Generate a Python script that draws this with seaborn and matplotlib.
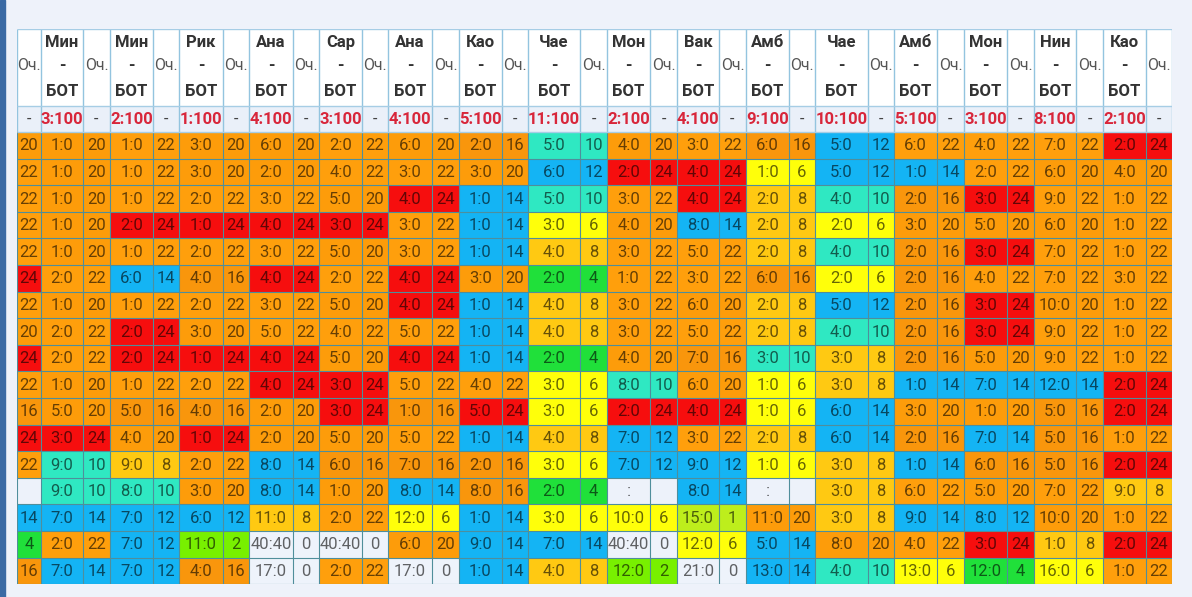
import numpy as np
import pandas as pd
import matplotlib
matplotlib.use('Agg')
import matplotlib.pyplot as plt
from matplotlib.colors import ListedColormap
from matplotlib.patches import Rectangle
import seaborn as sns

groups = ['Мин', 'Мин', 'Рик', 'Ана', 'Сар', 'Ана', 'Као', 'Чае',
          'Мон', 'Вак', 'Амб', 'Чае', 'Амб', 'Мон', 'Нин', 'Као']
bot_totals = ['3:100', '2:100', '1:100', '4:100', '3:100', '4:100', '5:100', '11:100',
              '2:100', '4:100', '9:100', '10:100', '5:100', '3:100', '8:100', '2:100']

# points column on the far left (cut off by scrolling)
first_och = [20, 22, 22, 22, 22, 24, 22, 20, 24, 22, 16, 24, 22, None, 14, 4, 16]

scores = [
    ['1:0', '1:0', '3:0', '6:0', '2:0', '6:0', '2:0', '5:0', '4:0', '3:0', '6:0', '5:0', '6:0', '4:0', '7:0', '2:0'],
    ['1:0', '1:0', '3:0', '2:0', '4:0', '3:0', '3:0', '6:0', '2:0', '4:0', '1:0', '5:0', '1:0', '2:0', '6:0', '4:0'],
    ['1:0', '1:0', '2:0', '3:0', '5:0', '4:0', '1:0', '5:0', '3:0', '4:0', '2:0', '4:0', '2:0', '3:0', '9:0', '1:0'],
    ['1:0', '2:0', '1:0', '4:0', '3:0', '3:0', '1:0', '3:0', '4:0', '8:0', '2:0', '2:0', '3:0', '5:0', '6:0', '1:0'],
    ['1:0', '1:0', '2:0', '3:0', '5:0', '3:0', '1:0', '4:0', '3:0', '5:0', '2:0', '4:0', '2:0', '3:0', '7:0', '1:0'],
    ['2:0', '6:0', '4:0', '4:0', '2:0', '4:0', '3:0', '2:0', '1:0', '3:0', '6:0', '2:0', '2:0', '4:0', '7:0', '3:0'],
    ['1:0', '1:0', '2:0', '3:0', '5:0', '4:0', '1:0', '4:0', '3:0', '6:0', '2:0', '5:0', '2:0', '3:0', '10:0', '1:0'],
    ['2:0', '2:0', '3:0', '5:0', '4:0', '5:0', '1:0', '4:0', '3:0', '5:0', '2:0', '4:0', '2:0', '3:0', '9:0', '1:0'],
    ['2:0', '2:0', '1:0', '4:0', '5:0', '4:0', '1:0', '2:0', '4:0', '7:0', '3:0', '3:0', '2:0', '5:0', '9:0', '1:0'],
    ['1:0', '1:0', '2:0', '4:0', '3:0', '5:0', '4:0', '3:0', '8:0', '6:0', '1:0', '3:0', '1:0', '7:0', '12:0', '2:0'],
    ['5:0', '5:0', '4:0', '2:0', '3:0', '1:0', '5:0', '3:0', '2:0', '4:0', '1:0', '6:0', '3:0', '1:0', '5:0', '2:0'],
    ['3:0', '4:0', '1:0', '2:0', '5:0', '5:0', '1:0', '4:0', '7:0', '3:0', '2:0', '6:0', '2:0', '7:0', '5:0', '1:0'],
    ['9:0', '9:0', '2:0', '8:0', '6:0', '7:0', '2:0', '3:0', '7:0', '9:0', '1:0', '3:0', '1:0', '6:0', '5:0', '2:0'],
    ['9:0', '8:0', '3:0', '8:0', '1:0', '8:0', '8:0', '2:0', ':', '8:0', ':', '3:0', '6:0', '5:0', '7:0', '9:0'],
    ['7:0', '7:0', '6:0', '11:0', '2:0', '12:0', '1:0', '3:0', '10:0', '15:0', '11:0', '3:0', '9:0', '8:0', '10:0', '1:0'],
    ['2:0', '7:0', '11:0', '40:40', '40:40', '6:0', '9:0', '7:0', '40:40', '12:0', '5:0', '8:0', '4:0', '3:0', '1:0', '2:0'],
    ['7:0', '7:0', '4:0', '17:0', '2:0', '17:0', '1:0', '4:0', '12:0', '21:0', '13:0', '4:0', '13:0', '12:0', '16:0', '1:0'],
]

och = [
    [20, 22, 20, 20, 22, 20, 16, 10, 20, 22, 16, 12, 22, 22, 22, 24],
    [20, 22, 20, 20, 22, 22, 20, 12, 24, 24, 6, 12, 14, 22, 20, 20],
    [20, 22, 22, 22, 20, 24, 14, 10, 22, 24, 8, 10, 16, 24, 22, 22],
    [20, 24, 24, 24, 24, 22, 14, 6, 20, 14, 8, 6, 20, 20, 20, 22],
    [20, 22, 22, 22, 20, 22, 14, 8, 22, 22, 8, 10, 16, 24, 22, 22],
    [22, 14, 16, 24, 22, 24, 20, 4, 22, 22, 16, 6, 16, 22, 22, 22],
    [20, 22, 22, 22, 20, 24, 14, 8, 22, 20, 8, 12, 16, 24, 20, 22],
    [22, 24, 20, 22, 22, 22, 14, 8, 22, 22, 8, 10, 16, 24, 22, 22],
    [22, 24, 24, 24, 20, 24, 14, 4, 20, 16, 10, 8, 16, 20, 22, 22],
    [20, 22, 22, 24, 24, 22, 22, 6, 10, 20, 6, 8, 14, 14, 14, 24],
    [20, 16, 16, 20, 24, 16, 24, 6, 24, 24, 6, 14, 20, 20, 16, 24],
    [24, 20, 24, 20, 20, 22, 14, 8, 12, 22, 8, 14, 16, 14, 16, 22],
    [10, 8, 22, 14, 16, 16, 16, 6, 12, 12, 6, 8, 14, 16, 16, 24],
    [10, 10, 20, 14, 20, 14, 16, 4, None, 14, None, 8, 22, 20, 22, 8],
    [14, 12, 12, 8, 22, 6, 14, 6, 6, 1, 20, 8, 14, 12, 20, 22],
    [22, 12, 2, 0, 0, 20, 14, 14, 0, 6, 14, 20, 22, 24, 8, 24],
    [14, 12, 16, 0, 22, 0, 14, 8, 2, 0, 14, 10, 6, 4, 6, 22],
]

# ---- colours per points value ----
palette = {
    'head': '#ffffff', 'sub': '#eaf0f9', 'blank': '#edf2fa',
    0: '#eef3fb', 1: '#bdee1c', 2: '#78f000', 4: '#20e03a', 6: '#ffff0a',
    8: '#ffc912', 10: '#2fe8c2', 12: '#14b4f4', 14: '#14b4f4',
    16: '#f9960c', 20: '#fd9c0a', 22: '#ff9f0c', 24: '#f60e0e',
}
keys = list(palette)
cmap = ListedColormap([palette[k] for k in keys])

# ---- layout (pixel edges of the screenshot table) ----
W, H = 1192, 597
col_px = [17, 41, 83, 110, 153, 179, 223, 249, 293, 319, 362, 388, 432, 459, 502, 528,
          580, 607, 650, 677, 719, 746, 789, 815, 868, 894, 937, 964, 1007, 1034,
          1076, 1103, 1146, 1172]
row_px = [29, 106, 132] + [132 + 26.6 * k for k in range(1, len(och) + 1)]

n_cols = 1 + 2 * len(groups)
n_rows = 2 + len(och)

code = np.zeros((n_rows, n_cols))
code[0, :] = keys.index('head')
code[1, :] = keys.index('sub')
for i, row in enumerate(och):
    v0 = first_och[i]
    code[i + 2, 0] = keys.index('blank' if v0 is None else v0)
    for g, v in enumerate(row):
        k = keys.index('blank' if v is None else v)
        code[i + 2, 1 + 2 * g] = k
        code[i + 2, 2 + 2 * g] = k


def piecewise(edges):
    # maps cell index -> screen pixel, so cells get their real widths
    px = np.asarray(edges, float)
    idx = np.arange(len(px), dtype=float)
    big = 1e4
    idx_e = np.concatenate([[-big], idx, [idx[-1] + big]])
    px_e = np.concatenate([[px[0] - big * (px[1] - px[0])], px,
                           [px[-1] + big * (px[-1] - px[-2])]])
    return (lambda v: np.interp(v, idx_e, px_e),
            lambda v: np.interp(v, px_e, idx_e))


sns.set_style('white')
plt.rcParams['font.family'] = ['Roboto', 'DejaVu Sans']

fig = plt.figure(figsize=(W / 100, H / 100), dpi=100, facecolor='#eef2fa')
ax = fig.add_axes([col_px[0] / W, 1 - row_px[-1] / H,
                   (col_px[-1] - col_px[0]) / W, (row_px[-1] - row_px[0]) / H])

sns.heatmap(pd.DataFrame(code), cmap=cmap, vmin=-0.5, vmax=len(keys) - 0.5,
            cbar=False, linewidths=0, xticklabels=False, yticklabels=False, ax=ax)

ax.set_xscale('function', functions=piecewise(col_px))
ax.set_yscale('function', functions=piecewise(row_px))
ax.set_xlim(0, n_cols)
ax.set_ylim(n_rows, 0)
ax.set_xticks([])
ax.set_yticks([])
for s in ax.spines.values():
    s.set_visible(False)

# grid lines
head_line = '#93c4df'
data_line = '#4f8e9b'
for x in range(n_cols + 1):
    ax.vlines(x, 0, 2, color=head_line, lw=1.0)
    ax.vlines(x, 2, n_rows, color=data_line, lw=0.8)
for y in range(0, 3):
    ax.hlines(y, 0, n_cols, color='#a6cde5', lw=1.0)
for y in range(3, n_rows + 1):
    ax.hlines(y, 0, n_cols, color=data_line, lw=0.8)

# header text
hdr = dict(ha='center', va='center', fontsize=12, fontweight='bold', color='#333333')
och_kw = dict(ha='center', va='center', fontsize=11.5, color='#555555')
ax.text(0.5, 0.48, 'Оч.', **och_kw)
for g, name in enumerate(groups):
    xc = 1 + 2 * g + 0.5
    ax.text(xc, 0.17, name, **hdr)
    ax.text(xc, 0.48, '-', **hdr)
    ax.text(xc, 0.81, 'БОТ', **hdr)
    ax.text(xc + 1, 0.48, 'Оч.', **och_kw)

# totals row
ax.text(0.5, 1.5, '-', ha='center', va='center', fontsize=11.5, color='#444444')
for g, t in enumerate(bot_totals):
    ax.text(1 + 2 * g + 0.5, 1.52, t, ha='center', va='center', fontsize=12,
            fontweight='bold', color='#d8263a')
    ax.text(2 + 2 * g + 0.5, 1.5, '-', ha='center', va='center', fontsize=11.5,
            color='#444444')

# data text
cell = dict(ha='center', va='center', fontsize=12, color='black', alpha=0.6)
for i in range(len(och)):
    yc = i + 2 + 0.52
    if first_och[i] is not None:
        ax.text(0.5, yc, str(first_och[i]), **cell)
    for g in range(len(groups)):
        ax.text(1 + 2 * g + 0.5, yc, scores[i][g], **cell)
        if och[i][g] is not None:
            ax.text(2 + 2 * g + 0.5, yc, str(och[i][g]), **cell)

# blue strip at the left edge of the screenshot
fig.patches.append(Rectangle((0, 0), 5 / W, 1, transform=fig.transFigure,
                             color='#3a6aa4', zorder=5))

fig.savefig('out.png', dpi=100, facecolor=fig.get_facecolor())
